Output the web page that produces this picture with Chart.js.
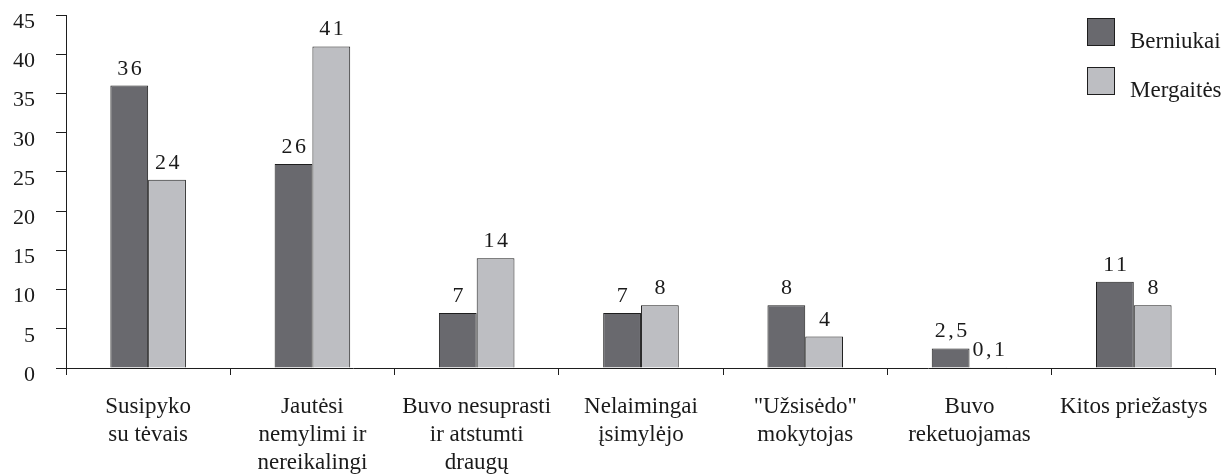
<!DOCTYPE html>
<html>
<head>
<meta charset="utf-8">
<script src="https://cdn.jsdelivr.net/npm/chart.js@4"></script>
<style>
  html, body { margin: 0; padding: 0; background: #fff; }
  #wrap { width: 1226px; height: 475px; position: relative; }
</style>
</head>
<body>
<div id="wrap"><canvas id="grafikas"></canvas></div>
<script>
const kategorijos = [
  ["Susipyko", "su tėvais"],
  ["Jautėsi", "nemylimi ir", "nereikalingi"],
  ["Buvo nesuprasti", "ir atstumti", "draugų"],
  ["Nelaimingai", "įsimylėjo"],
  ["\"Užsisėdo\"", "mokytojas"],
  ["Buvo", "reketuojamas"],
  ["Kitos priežastys"]
];
const berniukai = [36, 26, 7, 7, 8, 2.5, 11];
const mergaites = [24, 41, 14, 8, 4, 0.1, 8];
const serijos = ["Berniukai", "Mergaitės"];
const yMax = 45;
const yZingsnis = 5;

const SERIF = '"Liberation Serif", "DejaVu Serif", serif';
const tamsi = "#69696e";
const sviesi = "#bdbec2";
const linija = "#1e1e1e";

// skaiciai virs stulpeliu, su kableliu ir tarpais tarp skaitmenu
const reiksmes = {
  id: "reiksmes",
  afterDatasetsDraw(chart) {
    const ctx = chart.ctx;
    ctx.save();
    ctx.font = "22px " + SERIF;
    ctx.fillStyle = "#1a1a1a";
    ctx.textAlign = "center";
    ctx.textBaseline = "alphabetic";
    if ("letterSpacing" in ctx) ctx.letterSpacing = "2.5px";
    chart.data.datasets.forEach((ds, i) => {
      chart.getDatasetMeta(i).data.forEach((bar, j) => {
        const txt = String(ds.data[j]).replace(".", ",");
        ctx.fillText(txt, bar.x + 1.5, bar.y - 11);
      });
    });
    ctx.restore();
  }
};

// legenda virsuje desineje
const legenda = {
  id: "legenda",
  afterDraw(chart) {
    const ctx = chart.ctx;
    ctx.save();
    ctx.font = "23px " + SERIF;
    ctx.textBaseline = "alphabetic";
    ctx.textAlign = "left";
    chart.data.datasets.forEach((ds, i) => {
      const y = 18 + i * 49;
      ctx.fillStyle = ds.backgroundColor;
      ctx.fillRect(1087.5, y + 0.5, 27, 27);
      ctx.strokeStyle = linija;
      ctx.lineWidth = 1;
      ctx.strokeRect(1087.5, y + 0.5, 27, 27);
      ctx.fillStyle = "#1a1a1a";
      ctx.fillText(ds.label, 1130, y + 30);
    });
    ctx.restore();
  }
};

new Chart(document.getElementById("grafikas"), {
  type: "bar",
  data: {
    labels: kategorijos,
    datasets: [
      { label: serijos[0], data: berniukai, backgroundColor: tamsi, borderColor: linija, borderWidth: 1 },
      { label: serijos[1], data: mergaites, backgroundColor: sviesi, borderColor: linija, borderWidth: 1 }
    ]
  },
  options: {
    responsive: true,
    maintainAspectRatio: false,
    animation: false,
    layout: { padding: { top: 15, right: 6, left: 0, bottom: 0 } },
    datasets: { bar: { categoryPercentage: 0.46, barPercentage: 1.0 } },
    plugins: {
      legend: { display: false },
      tooltip: { enabled: false }
    },
    scales: {
      x: {
        offset: true,
        grid: { offset: true, drawOnChartArea: false, drawTicks: true, tickLength: 7, color: linija },
        border: { color: linija, width: 1 },
        ticks: {
          color: "#1a1a1a",
          font: { family: SERIF, size: 23, lineHeight: 1.22 },
          maxRotation: 0,
          autoSkip: false,
          padding: 18
        },
        afterFit(scale) { scale.height = 107; }
      },
      y: {
        min: 0,
        max: yMax,
        grid: { drawOnChartArea: false, drawTicks: true, tickLength: 10, color: linija },
        border: { color: linija, width: 1 },
        ticks: {
          stepSize: yZingsnis,
          color: "#1a1a1a",
          font: { family: SERIF, size: 22, lineHeight: 0.65 },
          padding: 21,
          // tuscia pirma eilute nustumia skaiciu kiek zemiau bruksnelio, kaip originale
          callback: (v) => ["", String(v)]
        },
        afterFit(scale) {
          scale.width = 66;
          scale.paddingTop = 0;
          scale.paddingBottom = 0;
        }
      }
    }
  },
  plugins: [reiksmes, legenda]
});
</script>
</body>
</html>
